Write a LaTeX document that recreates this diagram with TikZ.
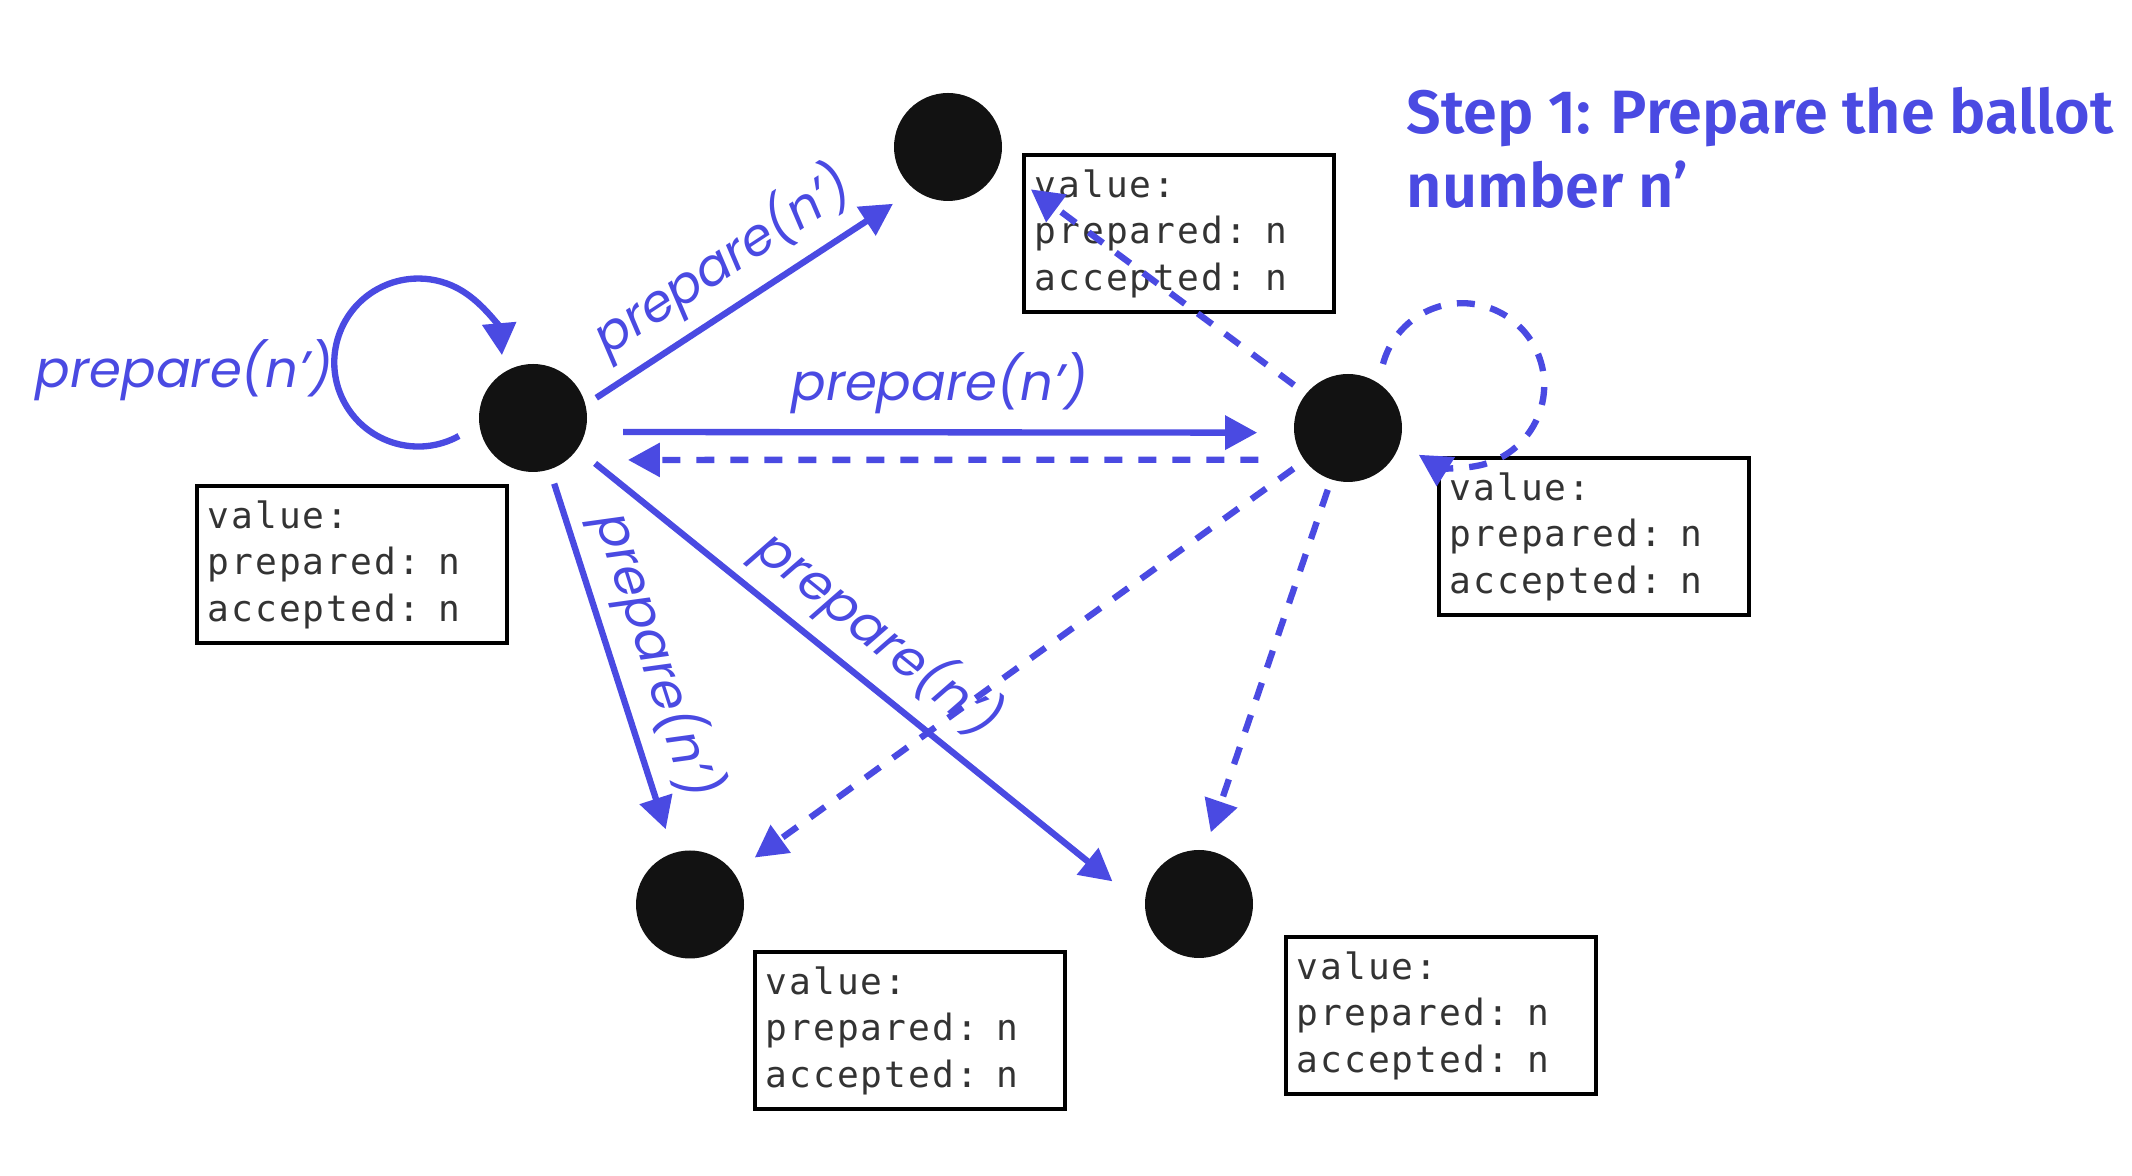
\documentclass[tikz,border=0pt]{standalone}
\usepackage{fontspec}
\usepackage{tikz}
\usetikzlibrary{arrows.meta}
\usetikzlibrary{calc}
\newfontfamily\titlefont{Fira Sans}[BoldFont={Fira Sans SemiBold}]
\newfontfamily\lblfont{Poppins}
\newfontfamily\boxfont{DejaVu Sans Mono}[LetterSpace=6]
\definecolor{paxblue}{RGB}{74,74,226}
\tikzset{>={Triangle[length=0.32cm,width=0.33cm]}}
\tikzset{
  peer/.style={circle, fill=black!93, minimum size=1.08cm, inner sep=0pt, outer sep=0pt},
  statebox/.style={draw, line width=1.2pt, anchor=north west, minimum width=3.1cm, minimum height=1.57cm,
    text width=2.9cm, inner xsep=0.1cm, inner ysep=0pt, align=left, text=black!80,
    font=\boxfont\fontsize{10.3}{13.2}\selectfont},
  lbl/.style={text=paxblue, font=\lblfont\itshape\fontsize{14.6}{16}\selectfont},
  msg/.style={paxblue, line width=1.8pt, ->},
  reply/.style={msg, dash pattern=on 0.18cm off 0.16cm},
}

\begin{document}
\begin{tikzpicture}
    \useasboundingbox (0,0) rectangle (21.32,-11.76);

    \node[peer] (A) at (5.33,-4.18) {};
    \node[peer] (B) at (9.48,-1.47) {};
    \node[peer] (C) at (13.48,-4.28) {};
    \node[peer] (D) at (6.90,-9.045) {};
    \node[peer] (E) at (11.99,-9.04) {};

    \node[statebox] (boxA) at (1.95,-4.84) {value:\\prepared: n\\accepted: n};
    \node[statebox] (boxB) at (10.22,-1.53) {value:\\prepared: n\\accepted: n};
    \node[statebox] (boxC) at (14.37,-4.56) {value:\\prepared: n\\accepted: n};
    \node[statebox] (boxD) at (7.53,-9.50) {value:\\prepared: n\\accepted: n};
    \node[statebox] (boxE) at (12.84,-9.35) {value:\\prepared: n\\accepted: n};

    \node[anchor=north west, inner sep=0pt, align=left, text=paxblue,
      font=\titlefont\bfseries\fontsize{17.4}{21}\selectfont] (title) at (14.06,-0.87)
      {Step 1: Prepare the ballot\\number n’};

    \draw[msg, shorten <=0.13cm, shorten >=0.26cm] (A.14) -- node[lbl, sloped, above, pos=0.49] {prepare(n’)} (B.232);
    \draw[msg, shorten <=0.38cm, shorten >=0.37cm] (A.-15) -- node[lbl, above=1pt] {prepare(n’)} (C.185);
    \draw[msg, shorten <=0.15cm, shorten >=0.25cm] (A) -- node[lbl, sloped, above, pos=0.52] {prepare(n’)} (D);
    \draw[msg, shorten <=0.23cm, shorten >=0.42cm] (A.-35) -- node[lbl, sloped, above, pos=0.48] {prepare(n’)} (E.184);

    \coordinate (loopA) at ([shift={(-0.74,-0.18)}]A.center);
    \draw[msg] (loopA) arc[start angle=-61, end angle=-355, radius=0.84];
    \node[lbl, anchor=east] (lblA) at (3.45,-3.70) {prepare(n’)};

    \draw[reply, shorten <=0.46cm, shorten >=0.61cm] (C.216) -- (A.309);
    \draw[reply, shorten <=0.15cm, shorten >=0.40cm] (C.141) -- (B.-20);
    \draw[reply, shorten <=0.14cm, shorten >=0.26cm] (C.217) -- (D.36);
    \draw[reply, shorten <=0.11cm, shorten >=0.19cm] (C.252) -- (E.84);

    \coordinate (loopC) at ([shift={(0.35,0.64)}]C.center);
    \draw[reply] (loopC) arc[start angle=165, end angle=-122, radius=0.82];
\end{tikzpicture}
\end{document}
